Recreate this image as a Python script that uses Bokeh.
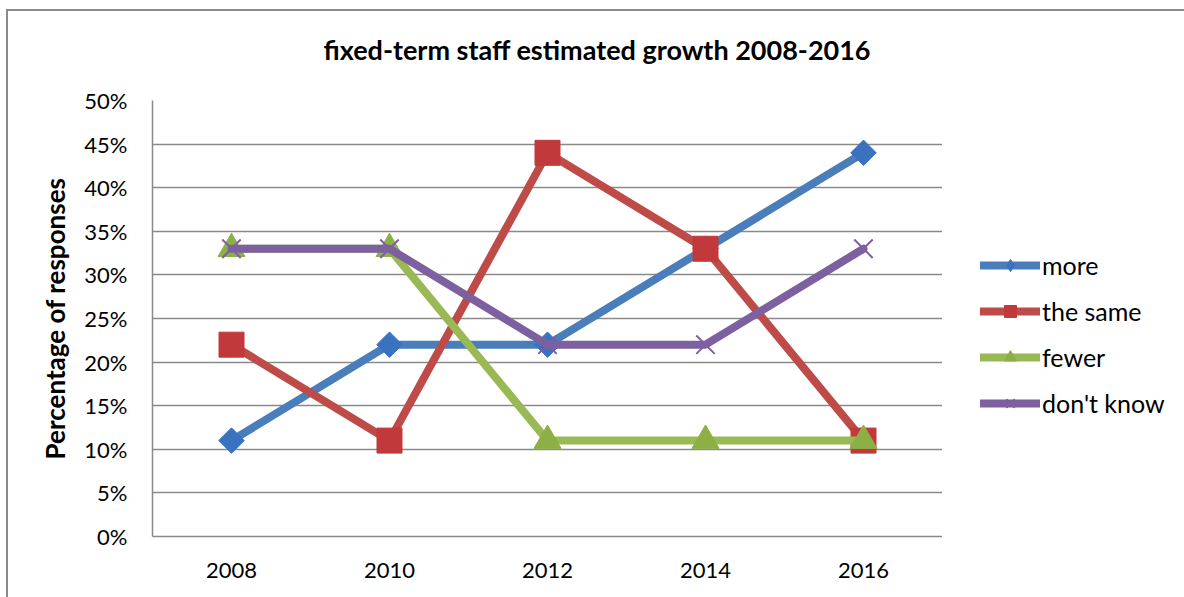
import math
from bokeh.plotting import figure
from bokeh.layouts import row
from bokeh.models import (FactorRange, Range1d, NumeralTickFormatter, FixedTicker, Legend,
                          LegendItem, Title)
from bokeh.embed import file_html
from bokeh.resources import INLINE

years = ["2008", "2010", "2012", "2014", "2016"]
more = [0.11, 0.22, 0.22, 0.33, 0.44]
the_same = [0.22, 0.11, 0.44, 0.33, 0.11]
fewer = [0.33, 0.33, 0.11, 0.11, 0.11]
dont_know = [0.33, 0.33, 0.22, 0.22, 0.33]
y_ticks = [0.0, 0.05, 0.10, 0.15, 0.20, 0.25, 0.30, 0.35, 0.40, 0.45, 0.50]

FONT = "Lato"
GRID = "#8a8a8a"

p = figure(width=934, height=586, x_range=FactorRange(*years), y_range=(0, 0.5),
           output_backend="svg", toolbar_location=None,
           min_border_left=144, min_border_top=89, min_border_right=0, min_border_bottom=61)
p.x_range.range_padding = 0
p.outline_line_color = None
p.background_fill_color = "white"
p.border_fill_color = "white"

# spacer (nearest the frame), then the real title above it
p.add_layout(Title(text=" ", text_font_size="1px", standoff=27), "above")
t = Title(text="fixed-term staff estimated growth 2008-2016", align="left", offset=171,
          text_font=FONT, text_font_size="27px", text_font_style="bold", text_color="black",
          standoff=10)
p.add_layout(t, "above")

p.xgrid.grid_line_color = None
p.ygrid.grid_line_color = GRID
p.ygrid.grid_line_width = 1.5
p.yaxis.ticker = FixedTicker(ticks=y_ticks)
p.yaxis.formatter = NumeralTickFormatter(format="0%")
for ax in (p.xaxis, p.yaxis):
    ax.axis_line_color = GRID
    ax.axis_line_width = 1.5
    ax.major_tick_line_color = None
    ax.minor_tick_line_color = None
    ax.major_label_text_font = FONT
    ax.major_label_text_font_size = "22px"
    ax.major_label_text_color = "black"
p.yaxis.major_label_standoff = 19
p.xaxis.major_label_standoff = 20
p.yaxis.axis_label = "Percentage of responses"
p.yaxis.axis_label_text_font = FONT
p.yaxis.axis_label_text_font_size = "26px"
p.yaxis.axis_label_text_font_style = "bold"
p.yaxis.axis_label_text_color = "black"
p.yaxis.axis_label_standoff = 10

# name, values, line colour, marker colour, plot marker, size, angle, legend marker
series = [
    ("more", more, "#4a7ebb", "#3b72bf", "square", 18, math.pi / 4, "diamond"),
    ("the same", the_same, "#be4b48", "#c2393b", "square", 25, 0, "square"),
    ("fewer", fewer, "#98b954", "#8db046", "triangle", 27, 0, "triangle"),
    ("don't know", dont_know, "#7d60a0", "#7d60a0", "x", 26, 0, "x"),
]

# legend panel: a second, axis-less figure; its copies of the series lie outside its view
lp = figure(width=242, height=586, x_range=FactorRange(*years), y_range=Range1d(2, 3),
            output_backend="svg", toolbar_location=None,
            min_border_left=0, min_border_right=0, min_border_top=0, min_border_bottom=0)
lp.axis.visible = False
lp.grid.grid_line_color = None
lp.outline_line_color = None
lp.background_fill_color = "white"
lp.border_fill_color = "white"


def draw(fig, xs, vals, lc, mc, marker, size, ang):
    ln = fig.line(xs, vals, line_color=lc, line_width=8, line_join="round", line_cap="round")
    if marker == "x":
        sc = fig.scatter(xs, vals, marker="x", size=size, line_color=mc, line_width=2)
    else:
        sc = fig.scatter(xs, vals, marker=marker, size=size, angle=ang,
                         fill_color=mc, line_color=mc, line_width=1)
    return ln, sc


items = []
for name, vals, lc, mc, marker, size, ang, lmarker in series:
    draw(p, years, vals, lc, mc, marker, size, ang)
    ln2, sc2 = draw(lp, years, vals, lc, mc, lmarker, size, 0)
    items.append(LegendItem(label=name, renderers=[ln2, sc2]))

legend = Legend(items=items, location=(38, 118), orientation="vertical",
                glyph_width=60, glyph_height=30, label_height=30, spacing=16,
                label_standoff=2, padding=0, margin=0, border_line_color=None,
                background_fill_alpha=0, label_text_font=FONT, label_text_font_size="25px",
                label_text_color="black")
lp.add_layout(legend, "center")

layout = row(p, lp)
layout.styles = {"margin-left": "6px", "margin-top": "9px",
                 "border-left": "2px solid #8a8a8a", "border-top": "2px solid #8a8a8a"}

open("out.html", "w").write(file_html(layout, INLINE))
